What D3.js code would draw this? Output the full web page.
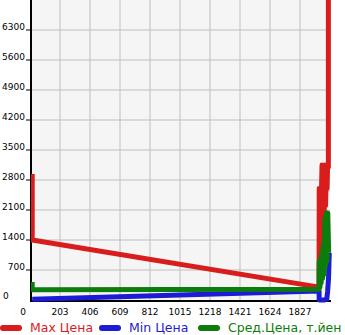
<!DOCTYPE html>
<html>
<head>
<meta charset="utf-8">
<script src="https://cdn.jsdelivr.net/npm/d3@7"></script>
<style>
  body { margin: 0; background: #fff; }
  text { font-family: "DejaVu Sans", sans-serif; }
</style>
</head>
<body>
<script>
// data: [x, value] pairs, drawn in order
const maxPrice = [[15, 2940], [15, 1400], [1956, 300], [1957, 2600], [1960, 1000], [1964, 2600], [1968, 1200], [1972, 2500], [1976, 3150], [1980, 1500], [1985, 3100], [1990, 1800], [1995, 3150], [2000, 2200], [2005, 3100], [2010, 2600], [2014, 3150], [2019, 3100], [2019, 8000]];
const minPrice = [[15, 20], [1956, 210], [1957, 0], [1990, 0], [2008, 20], [2014, 200], [2020, 500], [2025, 1100]];
const avgPrice = [[15, 420], [15, 240], [1956, 250], [1957, 900], [1962, 300], [1966, 950], [1970, 400], [1975, 1100], [1980, 500], [1985, 1300], [1990, 600], [1995, 1900], [2000, 800], [2005, 2030], [2010, 900], [2015, 2030], [2021, 1100]];
const xTicks = [0, 203, 406, 609, 812, 1015, 1218, 1421, 1624, 1827];
const yTicks = [0, 700, 1400, 2100, 2800, 3500, 4200, 4900, 5600, 6300];
const legendLabels = ["Max Цена", "Min Цена", "Сред.Цена, т.йен"];

const width = 345, height = 335;
const pLeft = 31, pRight = 330, pTop = 0, pBottom = 300;

const x = d3.scaleLinear().domain([0, 2030]).range([30, pRight]);
const y = d3.scaleLinear().domain([0, 7000]).range([pBottom, pTop]);

const svg = d3.select("body").append("svg").attr("width", width).attr("height", height);

svg.append("defs").append("clipPath").attr("id", "plot")
   .append("rect").attr("x", pLeft).attr("y", pTop).attr("width", pRight - pLeft + 2).attr("height", pBottom - pTop + 3);

svg.append("rect").attr("x", pLeft).attr("y", pTop).attr("width", pRight - pLeft).attr("height", pBottom - pTop).attr("fill", "#f5f5f5");

// grid
svg.append("g").selectAll("line").data(xTicks.slice(1)).enter().append("line")
   .attr("x1", d => x(d)).attr("x2", d => x(d)).attr("y1", pTop).attr("y2", pBottom)
   .attr("stroke", "#bfbfbf").attr("stroke-width", 1);
svg.append("g").selectAll("line").data(yTicks.slice(1)).enter().append("line")
   .attr("x1", pLeft).attr("x2", pRight).attr("y1", d => y(d)).attr("y2", d => y(d))
   .attr("stroke", "#bfbfbf").attr("stroke-width", 1);

// axes
svg.append("line").attr("x1", pLeft).attr("x2", pLeft).attr("y1", pTop).attr("y2", pBottom + 1)
   .attr("stroke", "#000").attr("stroke-width", 2);
svg.append("line").attr("x1", pLeft - 1).attr("x2", pRight + 1).attr("y1", pBottom + 1).attr("y2", pBottom + 1)
   .attr("stroke", "#000").attr("stroke-width", 2);

// series
const line = d3.line().x(d => x(d[0])).y(d => y(d[1]));
const colors = ["#d91c1c", "#1c1cd4", "#0c7d0c"];
const series = [maxPrice, minPrice, avgPrice];
const lines = svg.append("g").attr("clip-path", "url(#plot)");
series.forEach((s, i) => {
  lines.append("path").attr("d", line(s)).attr("fill", "none")
       .attr("stroke", colors[i]).attr("stroke-width", 5).attr("stroke-linejoin", "round");
});

const yAxis = svg.append("g");
yAxis.selectAll("line").data(yTicks.slice(1)).enter().append("line")
     .attr("x1", 26).attr("x2", pLeft).attr("y1", d => y(d)).attr("y2", d => y(d))
     .attr("stroke", "#000").attr("stroke-width", 1);
yAxis.selectAll("text").data(yTicks).enter().append("text")
     .attr("x", d => d === 0 ? 3 : 25).attr("y", d => d === 0 ? y(d) - 1 : y(d))
     .attr("text-anchor", d => d === 0 ? "start" : "end")
     .attr("font-size", 9).attr("fill", "#000")
     .text(d => d);

svg.append("g").selectAll("text").data(xTicks).enter().append("text")
   .attr("x", d => d === 0 ? 23 : x(d)).attr("y", 315)
   .attr("text-anchor", "middle").attr("font-size", 9).attr("fill", "#000")
   .text(d => d);

// legend
const legendX = [0, 99, 198];
const legend = svg.append("g");
legendLabels.forEach((label, i) => {
  legend.append("line").attr("x1", legendX[i] + 3).attr("x2", legendX[i] + 19)
        .attr("y1", 328).attr("y2", 328)
        .attr("stroke", colors[i]).attr("stroke-width", 6).attr("stroke-linecap", "round");
  legend.append("text").attr("x", legendX[i] + 30).attr("y", 332)
        .attr("font-size", 12.5).attr("fill", colors[i]).text(label);
});
</script>
</body>
</html>
